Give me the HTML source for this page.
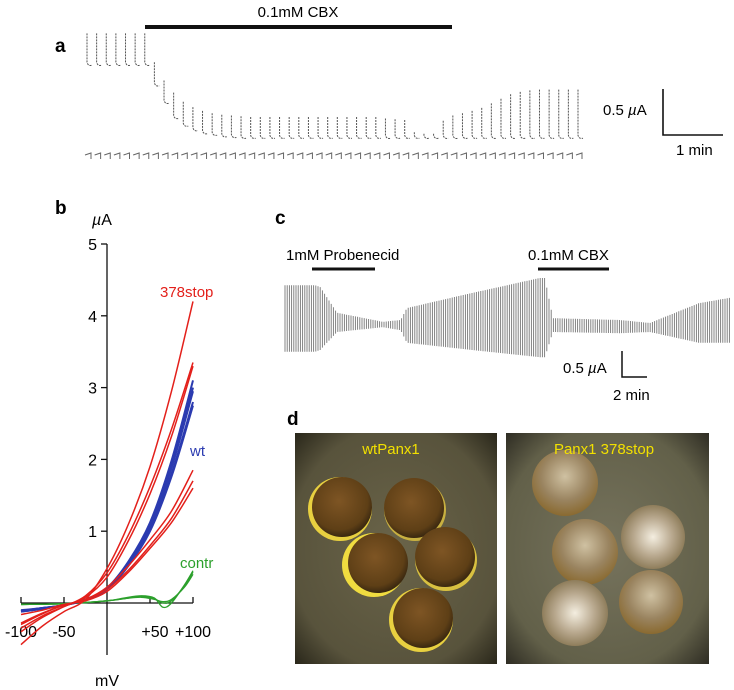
<!DOCTYPE html>
<html><head><meta charset="utf-8"><style>
html,body{margin:0;padding:0;background:#fff;width:734px;height:690px;overflow:hidden}
svg{display:block;font-family:"Liberation Sans",Arial,sans-serif}
</style></head><body>
<svg id="fig" width="734" height="690" viewBox="0 0 734 690">
<defs>
<radialGradient id="bgL" cx="50%" cy="50%" r="75%"><stop offset="0" stop-color="#6a6449"/><stop offset="0.7" stop-color="#58533c"/><stop offset="1" stop-color="#1e1c12"/></radialGradient>
<radialGradient id="bgR" cx="50%" cy="50%" r="75%"><stop offset="0" stop-color="#76735d"/><stop offset="0.7" stop-color="#626049"/><stop offset="1" stop-color="#22201a"/></radialGradient>
<radialGradient id="eggW" cx="45%" cy="40%" r="60%"><stop offset="0" stop-color="#7e5524"/><stop offset="0.8" stop-color="#5e3f16"/><stop offset="1" stop-color="#3a2810"/></radialGradient>
<radialGradient id="eggS" cx="50%" cy="50%" r="60%"><stop offset="0" stop-color="#f4eee0"/><stop offset="0.5" stop-color="#b8a88e"/><stop offset="1" stop-color="#7a6842"/></radialGradient>
<radialGradient id="eggS2" cx="50%" cy="40%" r="60%"><stop offset="0" stop-color="#cfc1a2"/><stop offset="0.6" stop-color="#9a8460"/><stop offset="1" stop-color="#8a6a30"/></radialGradient>
</defs>

<!-- Panel a -->
<g>
<text x="55" y="52" font-size="19" font-weight="bold">a</text>
<line x1="145" y1="27" x2="452" y2="27" stroke="#111" stroke-width="4"/>
<text x="298" y="17" font-size="15" text-anchor="middle">0.1mM CBX</text>
<g id="traceA"></g>
<path d="M663 89 V135 H723" fill="none" stroke="#111" stroke-width="1.6"/>
<text x="603" y="115" font-size="15">0.5 <tspan font-style="italic">µ</tspan>A</text>
<text x="676" y="155" font-size="15">1 min</text>
</g>

<!-- Panel b -->
<g>
<text x="55" y="214" font-size="19" font-weight="bold">b</text>
<text x="92" y="225" font-size="16"><tspan font-style="italic">µ</tspan>A</text>
<g id="ivplot"></g>
</g>

<!-- Panel c -->
<g>
<text x="275" y="224" font-size="19" font-weight="bold">c</text>
<text x="286" y="260" font-size="15">1mM Probenecid</text>
<line x1="312" y1="269" x2="375" y2="269" stroke="#111" stroke-width="3"/>
<text x="528" y="260" font-size="15">0.1mM CBX</text>
<line x1="538" y1="269" x2="609" y2="269" stroke="#111" stroke-width="3"/>
<g id="traceC"></g>
<path d="M622 351 V377 H647" fill="none" stroke="#111" stroke-width="1.5"/>
<text x="563" y="373" font-size="15">0.5 <tspan font-style="italic">µ</tspan>A</text>
<text x="613" y="400" font-size="15">2 min</text>
</g>

<!-- Panel d -->
<g>
<text x="287" y="425" font-size="19" font-weight="bold">d</text>
<rect x="295" y="433" width="202" height="231" fill="url(#bgL)"/>
<rect x="506" y="433" width="203" height="231" fill="url(#bgR)"/>
<g>
<circle cx="340" cy="509" r="32" fill="#e8d040"/><circle cx="342" cy="507" r="30" fill="url(#eggW)"/>
<circle cx="415" cy="510" r="31" fill="#c8b040"/><circle cx="414" cy="508" r="30" fill="url(#eggW)"/>
<circle cx="374" cy="565" r="32" fill="#f0dc40"/><circle cx="378" cy="563" r="30" fill="url(#eggW)"/>
<circle cx="446" cy="560" r="31" fill="#d8c040"/><circle cx="445" cy="557" r="30" fill="url(#eggW)"/>
<circle cx="421" cy="620" r="32" fill="#e8d040"/><circle cx="423" cy="618" r="30" fill="url(#eggW)"/>
</g>
<g>
<circle cx="565" cy="483" r="33" fill="url(#eggS2)"/>
<circle cx="585" cy="552" r="33" fill="url(#eggS2)"/>
<circle cx="653" cy="537" r="32" fill="url(#eggS)"/>
<circle cx="575" cy="613" r="33" fill="url(#eggS)"/>
<circle cx="651" cy="602" r="32" fill="url(#eggS2)"/>
</g>
<text x="391" y="454" font-size="15" fill="#f2e000" text-anchor="middle">wtPanx1</text>
<text x="604" y="454" font-size="15" fill="#f2e000" text-anchor="middle">Panx1 378stop</text>
</g>
</svg>
<script>
// ---------- Panel b data ----------
const voltages = [-100,-75,-50,-25,0,25,50,75,100];
const red1 = [-0.58,-0.32,-0.12,0.05,0.48,1.1,1.9,2.95,4.2];
const red2 = [-0.4,-0.2,-0.05,0.1,0.42,0.95,1.62,2.42,3.35];
const red3 = [-0.35,-0.18,-0.05,0.08,0.36,0.87,1.52,2.32,3.3];
const red4 = [-0.3,-0.15,-0.03,0.05,0.22,0.52,0.88,1.28,1.85];
const red5 = [-0.28,-0.14,-0.03,0.05,0.19,0.46,0.8,1.18,1.7];
const red6 = [-0.16,-0.1,-0.02,0.03,0.16,0.43,0.76,1.12,1.6];
const blue1 = [-0.12,-0.08,-0.03,0.05,0.21,0.58,1.12,1.98,3.1];
const blue2 = [-0.12,-0.08,-0.03,0.05,0.2,0.56,1.08,1.92,3.0];
const blue3 = [-0.11,-0.07,-0.03,0.05,0.2,0.55,1.06,1.88,2.95];
const blue4 = [-0.11,-0.07,-0.03,0.04,0.19,0.53,1.02,1.8,2.8];
const blue5 = [-0.1,-0.07,-0.03,0.04,0.19,0.52,1.0,1.76,2.75];
const greenV = [-100,-50,0,20,40,55,65,75,90,100];
const green1 = [-0.02,-0.01,0.03,0.07,0.1,0.07,-0.06,0.0,0.25,0.45];
const green2 = [-0.02,-0.01,0.03,0.06,0.08,0.05,0.02,0.05,0.22,0.4];
const green3 = [-0.02,-0.01,0.03,0.06,0.09,0.06,0.0,0.03,0.24,0.43];
const yTicks = [1,2,3,4,5];
const xTicks = [-100,-50,50,100];
const xTickLabels = ["-100","-50","+50","+100"];

// ---------- Panel a data (µA, per pulse) ----------
const pulseTopA = [1.6,1.6,1.6,1.6,1.6,1.6,1.6,1.22,0.98,0.82,0.7,0.63,0.58,0.55,0.53,0.52,0.51,0.5,0.5,0.5,0.5,0.5,0.5,0.5,0.5,0.5,0.5,0.5,0.5,0.5,0.5,0.48,0.47,0.46,0.3,0.28,0.28,0.45,0.52,0.55,0.58,0.62,0.68,0.74,0.8,0.83,0.85,0.86,0.86,0.86,0.86,0.86];
const pulseLowA = [1.22,1.22,1.22,1.22,1.22,1.22,1.22,0.95,0.72,0.52,0.42,0.36,0.32,0.3,0.28,0.27,0.26,0.26,0.26,0.26,0.26,0.26,0.26,0.26,0.26,0.26,0.26,0.26,0.26,0.26,0.26,0.26,0.26,0.26,0.26,0.26,0.26,0.26,0.26,0.26,0.26,0.26,0.26,0.26,0.26,0.26,0.26,0.26,0.26,0.26,0.26,0.26];

// ---------- Panel c data (envelope, µA above/below holding level) ----------
const timeC = [0,0.067,0.079,0.117,0.22,0.26,0.274,0.42,0.573,0.584,0.602,0.753,0.82,0.93,1.0];
const upperC = [0.58,0.58,0.55,0.12,-0.03,0.0,0.2,0.45,0.7,0.7,0.03,0.0,-0.05,0.28,0.37];
const lowerC = [0.53,0.53,0.5,0.2,0.12,0.17,0.38,0.5,0.62,0.62,0.2,0.22,0.2,0.38,0.38];

const NS='http://www.w3.org/2000/svg';
function mk(tag, attrs, parent){const e=document.createElementNS(NS,tag);for(const k in attrs)e.setAttribute(k,attrs[k]);parent.appendChild(e);return e;}
function smooth(pts){let d='M'+pts[0][0]+' '+pts[0][1];for(let i=0;i<pts.length-1;i++){const p0=pts[Math.max(i-1,0)],p1=pts[i],p2=pts[i+1],p3=pts[Math.min(i+2,pts.length-1)];const c1=[p1[0]+(p2[0]-p0[0])/6,p1[1]+(p2[1]-p0[1])/6],c2=[p2[0]-(p3[0]-p1[0])/6,p2[1]-(p3[1]-p1[1])/6];d+=` C${c1[0].toFixed(1)} ${c1[1].toFixed(1)} ${c2[0].toFixed(1)} ${c2[1].toFixed(1)} ${p2[0].toFixed(1)} ${p2[1].toFixed(1)}`;}return d;}

// Panel b
(function(){
const g=document.getElementById('ivplot');
const xS=v=>107+v*0.86, yS=a=>603-a*71.8;
const axY=mk('line',{x1:107,y1:yS(5),x2:107,y2:655,stroke:'#111','stroke-width':1.3},g);


const axX=mk('line',{x1:xS(-100),y1:603,x2:xS(100),y2:603,stroke:'#111','stroke-width':1.3},g);


yTicks.forEach(t=>{
 const l=mk('line',{x1:101,y1:yS(t),x2:107,y2:yS(t),stroke:'#111','stroke-width':1.3},g);
 
 
 const tx=mk('text',{x:97,y:yS(t)+6,'font-size':16,'text-anchor':'end'},g);tx.textContent=t;
 
 
});
xTicks.forEach((t,i)=>{
 const l=mk('line',{x1:xS(t),y1:597,x2:xS(t),y2:603,stroke:'#111','stroke-width':1.3},g);
 
 
 const tx=mk('text',{x:xS(t)+(t==50?5:0),y:637,'font-size':16,'text-anchor':'middle'},g);tx.textContent=xTickLabels[i];
 
 
});
const mv=mk('text',{x:107,y:686,'font-size':16,'text-anchor':'middle'},g);mv.textContent='mV';


function curve(V,A,col,w,name){const p=mk('path',{d:smooth(V.map((v,i)=>[xS(v),yS(A[i])])),fill:'none',stroke:col,'stroke-width':w},g);
 
 }
[green1,green2,green3].forEach(s=>curve(greenV,s,'#2ca02c',1.3,'contr-trace'));
[blue1,blue2,blue3,blue4,blue5].forEach(s=>curve(voltages,s,'#2b3bb0',2,'wt-trace'));
[red1,red2,red3,red4,red5,red6].forEach(s=>curve(voltages,s,'#e3201b',1.5,'stop378-trace'));
const labs=[['378stop',160,297,'#e3201b','label-378stop'],['wt',190,456,'#2b3bb0','label-wt'],['contr',180,568,'#2ca02c','label-contr']];
labs.forEach(L=>{const t=mk('text',{x:L[1],y:L[2],'font-size':15,fill:L[3]},g);t.textContent=L[0];
 
 });
})();

// Panel a
(function(){
const g=document.getElementById('traceA');
const base=155, s=76, x0=87, dx=(578-87)/(pulseTopA.length-1);
pulseTopA.forEach((a,i)=>{
 const x=x0+i*dx, yt=base-a*s, yl=base-pulseLowA[i]*s;
 const p=mk('path',{d:`M${x} ${yt} L${x} ${yl} Q${x+1} ${yl+4} ${x+5} ${yl+3}`,fill:'none',stroke:'#555','stroke-width':1,'stroke-dasharray':'2 1'},g);
 
 
 const b=mk('path',{d:`M${x-2} ${base} L${x+4} ${base-2} L${x+4} ${base+4}`,fill:'none',stroke:'#666','stroke-width':1},g);
 
 
});
})();

// Panel c
(function(){
const g=document.getElementById('traceC');
const x0=285,x1=730,mid=320,s=60;
const interp=(arr,t)=>{for(let i=0;i<timeC.length-1;i++){if(t<=timeC[i+1]){const f=(t-timeC[i])/(timeC[i+1]-timeC[i]);return arr[i]+f*(arr[i+1]-arr[i]);}}return arr[arr.length-1];};
let d='';
for(let x=x0;x<=x1;x+=2.2){const t=(x-x0)/(x1-x0);const yt=mid-interp(upperC,t)*s,yb=mid+interp(lowerC,t)*s;d+=`M${x.toFixed(1)} ${yt.toFixed(1)}V${yb.toFixed(1)}`;}
const p=mk('path',{d:d,stroke:'#777','stroke-width':0.9,fill:'none'},g);


})();
</script>
</body></html>
